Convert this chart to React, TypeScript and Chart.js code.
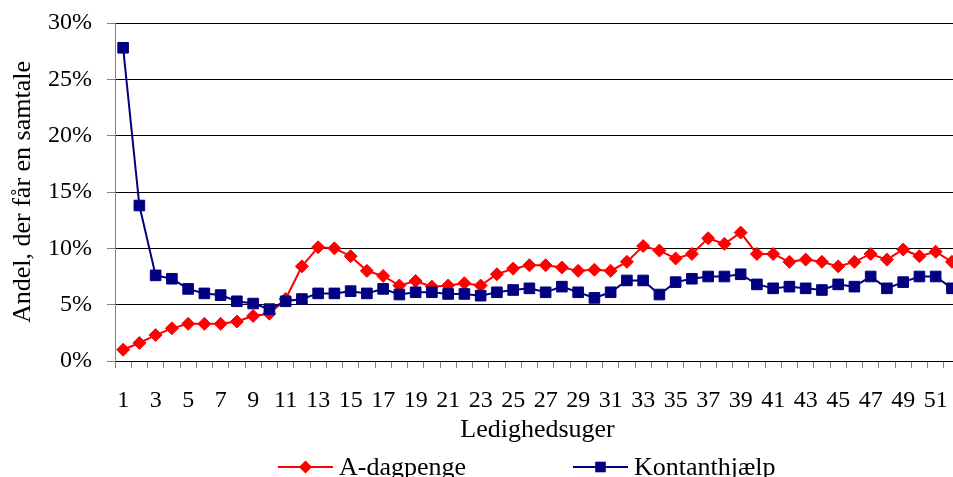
import React, { useEffect, useRef } from 'react';
import { Chart, registerables } from 'chart.js';

Chart.register(...registerables);

const weeks: string[] = [
  '1', '2', '3', '4', '5', '6', '7', '8', '9', '10',
  '11', '12', '13', '14', '15', '16', '17', '18', '19', '20',
  '21', '22', '23', '24', '25', '26', '27', '28', '29', '30',
  '31', '32', '33', '34', '35', '36', '37', '38', '39', '40',
  '41', '42', '43', '44', '45', '46', '47', '48', '49', '50',
  '51', '52',
];

const aDagpenge: number[] = [
  1.0, 1.6, 2.3, 2.9, 3.3, 3.3, 3.3, 3.5, 4.0, 4.2,
  5.5, 8.4, 10.1, 10.0, 9.3, 8.0, 7.55, 6.7, 7.1, 6.6,
  6.7, 6.9, 6.7, 7.7, 8.2, 8.5, 8.5, 8.3, 8.0, 8.1,
  8.0, 8.8, 10.2, 9.8, 9.1, 9.5, 10.9, 10.4, 11.4, 9.5,
  9.5, 8.8, 9.0, 8.8, 8.4, 8.8, 9.5, 9.0, 9.9, 9.3,
  9.7, 8.8,
];

const kontanthjaelp: number[] = [
  27.8, 13.8, 7.6, 7.3, 6.4, 6.0, 5.85, 5.3, 5.1, 4.6,
  5.3, 5.5, 6.0, 6.0, 6.2, 6.0, 6.4, 5.9, 6.1, 6.1,
  5.95, 5.95, 5.8, 6.1, 6.3, 6.45, 6.1, 6.6, 6.1, 5.6,
  6.1, 7.15, 7.15, 5.9, 7.0, 7.3, 7.5, 7.5, 7.7, 6.8,
  6.45, 6.6, 6.45, 6.3, 6.8, 6.6, 7.5, 6.45, 7.0, 7.5,
  7.5, 6.45,
];

const seriesLabels: string[] = ['A-dagpenge', 'Kontanthjælp'];
const yTickValues: number[] = [0, 5, 10, 15, 20, 25, 30];
const yTitle = 'Andel, der får en samtale';
const xTitle = 'Ledighedsuger';

const FONT = "'Liberation Serif', 'Times New Roman', serif";
const RED = '#FF0000';
const NAVY = '#000080';

const legendPlugin = {
  id: 'lineMarkerLegend',
  afterDraw(chart: any) {
    const { ctx, chartArea } = chart;
    const offsets = [163, 458];
    const y = 467;
    chart.data.datasets.forEach((ds: any, i: number) => {
      const x0 = chartArea.left + offsets[i];
      ctx.save();
      ctx.strokeStyle = ds.borderColor;
      ctx.lineWidth = 2;
      ctx.beginPath();
      ctx.moveTo(x0, y);
      ctx.lineTo(x0 + 55, y);
      ctx.stroke();
      const cx = x0 + 27.5;
      ctx.fillStyle = ds.pointBackgroundColor;
      ctx.beginPath();
      if (ds.pointStyle === 'rectRot') {
        const r = ds.pointRadius;
        ctx.moveTo(cx - r, y);
        ctx.lineTo(cx, y - r);
        ctx.lineTo(cx + r, y);
        ctx.lineTo(cx, y + r);
        ctx.closePath();
      } else {
        const s = ds.pointRadius * Math.SQRT1_2;
        ctx.rect(cx - s, y - s, 2 * s, 2 * s);
      }
      ctx.fill();
      ctx.fillStyle = '#000';
      ctx.font = `26px ${FONT}`;
      ctx.textBaseline = 'alphabetic';
      ctx.textAlign = 'left';
      ctx.fillText(ds.label, x0 + 61, 475);
      ctx.restore();
    });
  },
};

export default function App() {
  const ref = useRef<HTMLCanvasElement | null>(null);

  useEffect(() => {
    const canvas = ref.current;
    if (!canvas) return;
    const chart = new Chart(canvas, {
      type: 'line',
      data: {
        labels: weeks,
        datasets: [
          {
            label: seriesLabels[0],
            data: aDagpenge,
            borderColor: RED,
            backgroundColor: RED,
            pointBackgroundColor: RED,
            pointBorderColor: RED,
            pointStyle: 'rectRot',
            pointRadius: 6.5,
            pointBorderWidth: 1,
            borderWidth: 2,
            tension: 0,
            order: 1,
          },
          {
            label: seriesLabels[1],
            data: kontanthjaelp,
            borderColor: NAVY,
            backgroundColor: NAVY,
            pointBackgroundColor: NAVY,
            pointBorderColor: NAVY,
            pointStyle: 'rect',
            pointRadius: 7.5,
            pointBorderWidth: 1,
            borderWidth: 2,
            tension: 0,
            order: 0,
          },
        ],
      },
      options: {
        responsive: false,
        animation: false,
        events: [],
        layout: { padding: { top: 23, left: 0, right: 0, bottom: 47 } },
        plugins: {
          legend: { display: false },
          tooltip: { enabled: false },
        },
        scales: {
          x: {
            type: 'category',
            offset: true,
            grid: {
              offset: true,
              drawOnChartArea: false,
              drawTicks: true,
              tickLength: 7,
              tickColor: '#808080',
              lineWidth: 1,
            },
            border: { display: true, color: '#000' },
            ticks: {
              autoSkip: false,
              maxRotation: 0,
              minRotation: 0,
              padding: 18,
              color: '#000',
              font: { family: FONT, size: 24 },
              callback: (_v: any, i: number) => (i % 2 === 0 ? weeks[i] : ''),
            },
            title: {
              display: true,
              text: xTitle,
              color: '#000',
              font: { family: FONT, size: 26 },
              padding: { top: 0, bottom: -3 },
            },
            afterFit: (s: any) => {
              s.height = 82;
            },
          },
          y: {
            min: 0,
            max: 30,
            afterBuildTicks: (s: any) => {
              s.ticks = yTickValues.map((v) => ({ value: v }));
            },
            ticks: {
              padding: 15,
              color: '#000',
              font: { family: FONT, size: 24 },
              callback: (v: any) => `${v}%`,
            },
            grid: {
              color: '#000',
              lineWidth: 1,
              tickLength: 8,
              tickColor: '#808080',
            },
            border: { display: true, color: '#808080' },
            title: {
              display: true,
              text: yTitle,
              color: '#000',
              font: { family: FONT, size: 26 },
              padding: { top: 8, bottom: 0 },
            },
            afterFit: (s: any) => {
              s.width = 115;
              s.paddingTop = 0;
              s.paddingBottom = 0;
            },
          },
        },
      },
      plugins: [legendPlugin],
    });
    return () => chart.destroy();
  }, []);

  return (
    <div
      style={{
        position: 'fixed',
        left: 0,
        top: 0,
        width: 953,
        height: 477,
        overflow: 'hidden',
        background: '#fff',
      }}
    >
      <canvas ref={ref} width={970} height={490} style={{ width: 970, height: 490, display: 'block' }} />
    </div>
  );
}
